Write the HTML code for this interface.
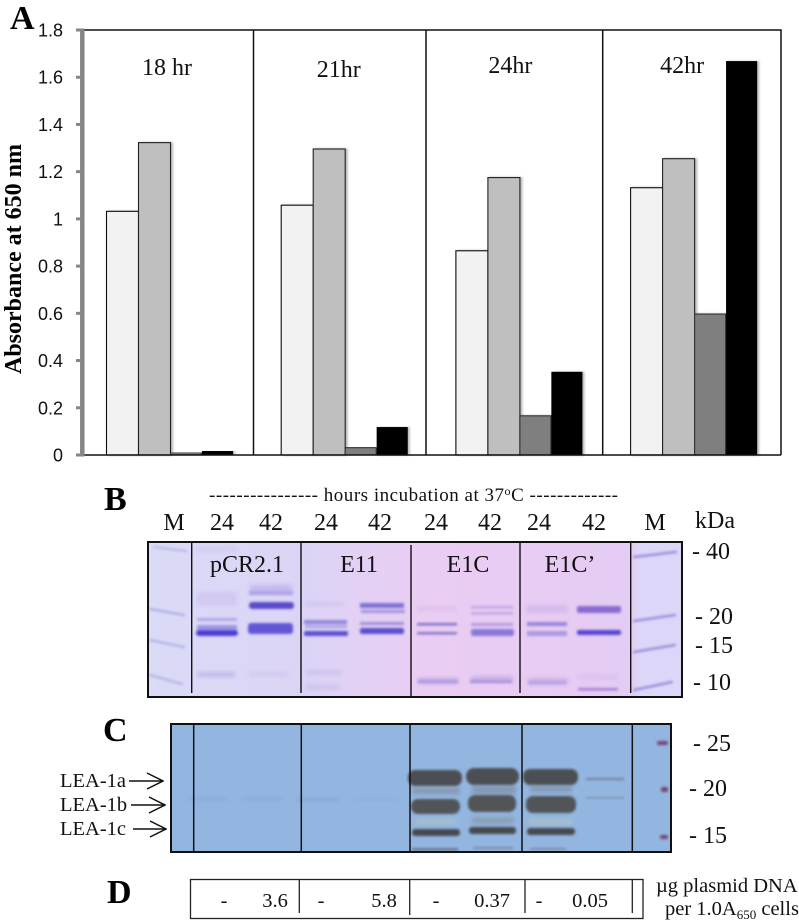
<!DOCTYPE html>
<html lang="en">
<head>
<meta charset="utf-8">
<title>Absorbance and gel panels</title>
<style>
html,body{margin:0;padding:0;background:#fff;}
svg{display:block;}
text{font-family:"Liberation Serif",serif;fill:#111;}
.panel{font-weight:bold;font-size:34px;fill:#000;}
.hr{font-size:24px;}
.lane{font-size:24px;}
.mw{font-size:24px;}
.tick{font-family:"Liberation Sans",sans-serif;font-size:18px;fill:#111;}
.lea{font-size:20.5px;fill:#222;}
.dv{font-size:20.5px;fill:#222;}
</style>
</head>
<body>
<svg id="fig" xmlns="http://www.w3.org/2000/svg" width="799" height="924" viewBox="0 0 799 924">
<defs>
<linearGradient id="gelB" x1="0" x2="1" y1="0" y2="0">
<stop offset="0" stop-color="#dadbf7"/><stop offset=".3" stop-color="#dcd4f6"/><stop offset=".52" stop-color="#ebcdf3"/><stop offset=".8" stop-color="#e6cbf3"/><stop offset=".91" stop-color="#e3cdf4"/><stop offset=".92" stop-color="#dcd6f8"/><stop offset="1" stop-color="#dcd6f8"/>
</linearGradient>
<filter id="b1" x="-10%" y="-150%" width="120%" height="400%"><feGaussianBlur stdDeviation="1.3"/></filter>
<filter id="b2" x="-10%" y="-100%" width="120%" height="300%"><feGaussianBlur stdDeviation="2"/></filter>
<filter id="bs" x="-20%" y="-5%" width="150%" height="110%"><feDropShadow dx="2" dy="0" stdDeviation="1" flood-color="#000" flood-opacity=".28"/></filter>
<marker id="arrowhead" markerWidth="18" markerHeight="20" refX="17" refY="10" orient="auto" markerUnits="userSpaceOnUse"><path d="M1 2 L17 10 L1 18" fill="none" stroke="#111" stroke-width="1.500"/></marker>
</defs>

<!-- Panel A -->
<g id="plot"></g>
<text class="panel" x="10" y="29">A</text>
<text transform="translate(21,259) rotate(-90)" text-anchor="middle" font-weight="bold" font-size="24" style="fill:#000">Absorbance at 650 nm</text>

<!-- Panel B -->
<text class="panel" x="104" y="510">B</text>
<text x="209" y="501" font-size="19" textLength="409">---------------- hours incubation at 37<tspan font-size="12" dy="-6">o</tspan><tspan dy="6">C -------------</tspan></text>
<g class="lane" text-anchor="middle">
<text x="174" y="530">M</text><text x="222" y="530">24</text><text x="271" y="530">42</text><text x="326" y="530">24</text><text x="380" y="530">42</text><text x="436" y="530">24</text><text x="490" y="530">42</text><text x="539" y="530">24</text><text x="594" y="530">42</text><text x="655" y="530">M</text>
</g>
<text class="lane" x="695" y="528">kDa</text>

<g>
<rect x="148" y="542" width="534" height="155" fill="url(#gelB)"/>
<g filter="url(#b2)">
<rect x="197" y="592" width="40" height="14" fill="#d2c8f1"/>
<rect x="250" y="585" width="42" height="8" fill="#c4b8ee"/>
<rect x="197" y="546" width="40" height="6" fill="#d2ccf1"/>
<rect x="197" y="672" width="38" height="5" fill="#c0b8ea"/>
<rect x="248" y="672" width="40" height="4" fill="#d0c7ef"/>
<rect x="304" y="602" width="40" height="4" fill="#d0c6ef"/>
<rect x="306" y="670" width="36" height="5" fill="#ccc3ee"/>
<rect x="306" y="684" width="34" height="6" fill="#cec5ee"/>
<rect x="417" y="606" width="40" height="5" fill="#dfc0ec"/>
<rect x="418" y="678" width="40" height="6" fill="#c4aee8"/>
<rect x="471" y="676" width="42" height="6" fill="#c9b0e8"/>
<rect x="526" y="605" width="42" height="8" fill="#d6bcec"/>
<rect x="528" y="678" width="40" height="7" fill="#ccb4ea"/>
<rect x="578" y="675" width="40" height="4" fill="#d9c0ec"/>
</g>
<g filter="url(#b1)">
<rect x="197" y="618" width="40" height="3" fill="#b0a4e8"/>
<rect x="197" y="625" width="40" height="6" fill="#a094e6"/>
<rect x="196" y="630" width="42" height="6" rx="3" fill="#4a3ed2"/>
<rect x="249" y="591" width="44" height="4" fill="#b0a2e8"/>
<rect x="249" y="602" width="45" height="7" rx="3" fill="#5a4ccc"/>
<rect x="248" y="623" width="45" height="11" rx="3" fill="#6256d6"/>
<rect x="304" y="620" width="43" height="4" fill="#9086d8"/>
<rect x="305" y="625" width="42" height="3" fill="#aea4e4"/>
<rect x="304" y="631" width="44" height="5" rx="2" fill="#5a50d0"/>
<rect x="360" y="603" width="44" height="5" fill="#7f72d4"/>
<rect x="361" y="610" width="44" height="3" fill="#9f94dc"/>
<rect x="360" y="622" width="44" height="3" fill="#9a90dc"/>
<rect x="360" y="628" width="44" height="6" rx="2" fill="#5a50d0"/>
<rect x="417" y="623" width="40" height="2.500" fill="#8070c8"/>
<rect x="417" y="632" width="40" height="2.500" fill="#8474cc"/>
<rect x="471" y="606" width="42" height="2.500" fill="#c0a6e4"/>
<rect x="471" y="612" width="42" height="2.500" fill="#c0a6e4"/>
<rect x="471" y="623" width="42" height="3" fill="#b29ce0"/>
<rect x="471" y="629" width="43" height="7" rx="2" fill="#8a78d8"/>
<rect x="470" y="680" width="42" height="3" fill="#a892dc"/>
<rect x="418" y="680" width="40" height="3" fill="#b09ce0"/>
<rect x="527" y="622" width="40" height="4" fill="#9686d8"/>
<rect x="527" y="631" width="40" height="5" fill="#ac9ae2"/>
<rect x="577" y="606" width="44" height="7" rx="2" fill="#8a6ad2"/>
<rect x="577" y="630" width="44" height="5" rx="2" fill="#5444d2"/>
<rect x="578" y="688" width="40" height="2.500" fill="#a47cd6"/>
<rect x="528" y="681" width="38" height="3" fill="#b8a2e2"/>
</g>
<g filter="url(#b1)" fill="none" stroke-linecap="round">
<path d="M154 547 L186 551" stroke="#bcbaea" stroke-width="2.500"/>
<path d="M150 609 L184 615" stroke="#b2b0e6" stroke-width="2.500"/>
<path d="M150 640 L184 647" stroke="#b6b3e8" stroke-width="2.500"/>
<path d="M150 675 L182 684" stroke="#bab6e8" stroke-width="2.500"/>
<path d="M634 557 L676 552" stroke="#8682d6" stroke-width="2"/>
<path d="M634 621 L675 615" stroke="#8682d6" stroke-width="2"/>
<path d="M634 652 L675 645" stroke="#8682d6" stroke-width="2"/>
<path d="M634 690 L672 682" stroke="#8682d6" stroke-width="2"/>
</g>
<rect x="148" y="542" width="534" height="155" fill="none" stroke="#111" stroke-width="2"/>
<path d="M191.700 542V693M301 542V693M411 545V697M520 542V693M630.700 542V693" stroke="#111" stroke-width="1.400" fill="none"/>
</g>
<g class="lane" text-anchor="middle">
<text x="247" y="572">pCR2.1</text><text x="359" y="572">E11</text><text x="468" y="572">E1C</text><text x="570" y="572">E1C’</text>
</g>
<g class="mw">
<text x="692" y="559">- 40</text><text x="695" y="624">- 20</text><text x="695" y="653">- 15</text><text x="693" y="690">- 10</text>
</g>

<!-- Panel C -->
<text class="panel" x="103" y="741">C</text>
<g>
<rect x="171" y="724" width="500" height="128" fill="#93b6e1"/>
<g filter="url(#b2)">
<rect x="186" y="798" width="42" height="2" fill="#85a5ce"/>
<rect x="241" y="798" width="42" height="2" fill="#85a5ce"/>
<rect x="297" y="798" width="42" height="3" fill="#85a5ce"/>
<rect x="354" y="798" width="44" height="2" fill="#8aaad3"/>
<rect x="416" y="819" width="40" height="5" fill="#a7bfc8"/>
<rect x="472" y="817" width="42" height="7" fill="#8a9fb5"/>
<rect x="528" y="819" width="44" height="5" fill="#a8c0c6"/>
<rect x="412" y="788" width="48" height="6" fill="#8497b2"/>
<rect x="472" y="786" width="44" height="8" fill="#8497b2"/>
<rect x="530" y="786" width="42" height="6" fill="#8497b2"/>
</g>
<g filter="url(#b1)">
<rect x="408" y="770" width="54" height="16" rx="7" fill="#4c4f52"/>
<rect x="466" y="768" width="53" height="17" rx="8" fill="#4c4f52"/>
<rect x="523" y="769" width="55" height="16" rx="7" fill="#4c4f52"/>
<rect x="411" y="799" width="49" height="15" rx="7" fill="#515559"/>
<rect x="468" y="795" width="48" height="17" rx="7" fill="#515559"/>
<rect x="526" y="796" width="50" height="17" rx="7" fill="#515559"/>
<rect x="412" y="829" width="48" height="7" rx="3" fill="#474a50"/>
<rect x="469" y="827" width="47" height="7" rx="3" fill="#474a50"/>
<rect x="527" y="828" width="48" height="7" rx="3" fill="#474a50"/>
<rect x="412" y="848" width="46" height="3" fill="#6d7a88"/>
<rect x="473" y="847" width="40" height="2" fill="#7a8798"/>
<rect x="530" y="848" width="36" height="2" fill="#7a8798"/>
<rect x="586" y="778" width="38" height="2" fill="#6f8098"/>
<rect x="586" y="797" width="38" height="1.600" fill="#7d92ad"/>
<rect x="657" y="741" width="11" height="4" rx="2" fill="#74456c"/>
<rect x="661" y="787" width="7" height="5" rx="2" fill="#74456c"/>
<rect x="660" y="835" width="8" height="4" rx="2" fill="#74456c"/>
</g>
<rect x="171" y="724" width="500" height="128" fill="none" stroke="#111" stroke-width="2"/>
<path d="M193.700 724V852M301.300 724V852M410 724V852M522 724V852M632.300 724V852" stroke="#111" stroke-width="1.500" fill="none"/>
</g>
<g class="mw">
<text x="693" y="751">- 25</text><text x="689" y="796">- 20</text><text x="689" y="843">- 15</text>
</g>
<g class="lea">
<text x="60" y="787">LEA-1a</text><text x="60" y="811">LEA-1b</text><text x="60" y="835">LEA-1c</text>
</g>
<g stroke="#111" stroke-width="1.500" fill="none">
<line x1="129" y1="781" x2="163" y2="781" marker-end="url(#arrowhead)"/>
<line x1="131" y1="805" x2="165" y2="805" marker-end="url(#arrowhead)"/>
<line x1="133" y1="829" x2="166" y2="829" marker-end="url(#arrowhead)"/>
</g>

<!-- Panel D -->
<text class="panel" x="107" y="903">D</text>
<g>
<rect x="190.500" y="879.500" width="452.500" height="39" fill="#fff" stroke="#222" stroke-width="1.300"/>
<path d="M299.300 880V913M409.700 880V915M525 880V913M632.300 880V913" stroke="#222" stroke-width="1.300" fill="none"/>
<g class="dv" text-anchor="middle">
<text x="224" y="907">-</text><text x="275" y="907">3.6</text><text x="321" y="907">-</text><text x="384" y="907">5.8</text><text x="436" y="907">-</text><text x="492" y="907">0.37</text><text x="539" y="907">-</text><text x="590" y="907">0.05</text>
</g>
</g>
<g class="lea">
<text x="656" y="892">µg plasmid DNA</text>
<text x="665" y="915">per 1.0A<tspan font-size="13" dy="4">650</tspan><tspan dy="-4"> cells</tspan></text>
</g>
</svg>

<script>
const categories = ['18 hr', '21hr', '24hr', '42hr'];
const seriesA = [1.032, 1.058, 0.865, 1.132];
const seriesB = [1.323, 1.296, 1.175, 1.255];
const seriesC = [0.01, 0.031, 0.166, 0.597];
const seriesD = [0.016, 0.116, 0.35, 1.666];
const yTickLabels = ['0', '0.2', '0.4', '0.6', '0.8', '1', '1.2', '1.4', '1.6', '1.8'];
const yTickValues = [0, 0.2, 0.4, 0.6, 0.8, 1, 1.2, 1.4, 1.6, 1.8];

const NS = 'http://www.w3.org/2000/svg';
const plot = document.getElementById('plot');
const yScale = v => 455 - v * (425 / 1.8);
const xBar = (group, s) => 106 + group * 174.7 + s * 32;
const allSeries = [seriesA, seriesB, seriesC, seriesD];
const seriesFill = ['#f2f2f2', '#bfbfbf', '#7f7f7f', '#000000'];
const seriesStroke = ['#111', '#222', '#333', '#000'];
const seriesWidth = [32, 32, 31, 30];
const labelCenter = group => 167 + group * 171.7;
const labelBaseline = group => (group === 1 ? 77 : group === 0 ? 75 : 73);

function make(tag, attrs, parent) {
  const el = document.createElementNS(NS, tag);
  Object.keys(attrs).forEach(k => el.setAttribute(k, attrs[k]));
  parent.appendChild(el);
  return el;
}

const frame = make('path', { d: 'M83 30H781V455M253.5 30V455M426 30V455M602.700 30V455', fill: 'none', stroke: '#111', 'stroke-width': 1.5 }, plot);



allSeries.forEach((values, s) => {
  values.forEach((v, g) => {
    const bar = make('rect', {
      x: xBar(g, s) + 0.5,
      y: yScale(v),
      width: seriesWidth[s],
      height: yScale(0) - yScale(v),
      fill: seriesFill[s],
      stroke: seriesStroke[s],
      'stroke-width': 1.1,
      filter: 'url(#bs)'
    }, plot);
    
    
  });
});

categories.forEach((c, g) => {
  const t = make('text', { x: labelCenter(g), y: labelBaseline(g), 'text-anchor': 'middle', class: 'hr' }, plot);
  t.textContent = c;
  
  
});

const xAxis = make('line', { x1: 83, x2: 781, y1: yScale(0), y2: yScale(0), stroke: '#111', 'stroke-width': 1.6 }, plot);



const yAxis = make('line', { x1: 82.3, x2: 82.3, y1: yScale(1.8) - 1.5, y2: yScale(0) + 1.5, stroke: '#868686', 'stroke-width': 4.5 }, plot);



yTickValues.forEach((v, i) => {
  const tick = make('line', { x1: 76, x2: 83, y1: yScale(v), y2: yScale(v), stroke: '#868686', 'stroke-width': 3 }, plot);
  
  
  const lab = make('text', { x: 63, y: yScale(v) + 6.5, 'text-anchor': 'end', class: 'tick' }, plot);
  lab.textContent = yTickLabels[i];
  
  
});
</script>
</body>
</html>
